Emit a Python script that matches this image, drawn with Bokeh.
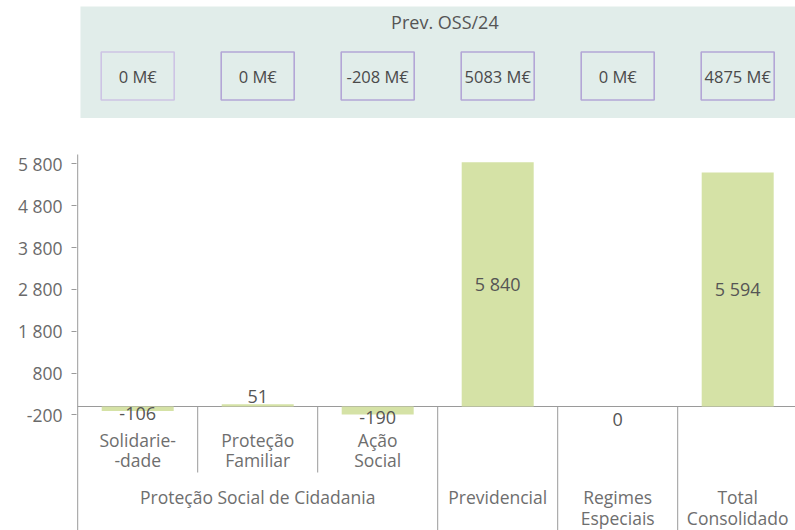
from bokeh.plotting import figure
from bokeh.models import FixedTicker, ColumnDataSource, Range1d
from bokeh.core.properties import value
from bokeh.embed import file_html
from bokeh.resources import INLINE

# ---- data ----
categories = ["Solidarie-\n-dade", "Proteção\nFamiliar", "Ação\nSocial",
              "Previdencial", "Regimes\nEspeciais", "Total\nConsolidado"]
values = [-106, 51, -190, 5840, 0, 5594]
value_labels = ["-106", "51", "-190", "5 840", "0", "5 594"]
prev_oss = ["0 M€", "0 M€", "-208 M€", "5083 M€", "0 M€", "4875 M€"]
group_name = "Proteção Social de Cidadania"
group_size = 3
y_ticks = [-200, 800, 1800, 2800, 3800, 4800, 5800]
y_tick_labels = ["-200", "800", "1 800", "2 800", "3 800", "4 800", "5 800"]
panel_title = "Prev. OSS/24"

# ---- layout helpers ----
FONT = value("Open Sans")
W, H = 795, 530
LEFT = 76
ZERO_PX = 406          # zero line, pixels below the top of the figure
UPP = 6000 / 251.0     # data units per pixel
n = len(categories)

def py(pixels_from_top):
    return (ZERO_PX - pixels_from_top) * UPP

x_start = -0.01
x_end = x_start + (W - LEFT) / 120.0
y_rng = Range1d(py(H), py(0))

p = figure(width=W, height=H, output_backend="svg", toolbar_location=None,
           x_range=Range1d(x_start, x_end), y_range=y_rng,
           x_axis_type=None, min_border_left=LEFT, min_border_right=0,
           min_border_top=0, min_border_bottom=0, outline_line_color=None)
p.grid.visible = False
p.background_fill_color = "white"

# y axis
ya = p.yaxis[0]
ya.ticker = FixedTicker(ticks=y_ticks)
ya.major_label_overrides = {t: l for t, l in zip(y_ticks, y_tick_labels)}
ya.axis_line_color = None
ya.major_tick_line_color = "#9a9a9a"
ya.major_tick_in = 0
ya.major_tick_out = 5
ya.minor_tick_line_color = None
ya.major_label_standoff = 9
ya.major_label_text_font = "Open Sans"
ya.major_label_text_font_size = "17.5px"
ya.major_label_text_color = "#6a6a6a"

# top panel
p.quad(left=0.023, right=x_end, bottom=py(117.5), top=py(6),
       fill_color="#e1edea", line_color=None)
p.text(x=[n / 2 + 0.06], y=[py(21)], text=[panel_title], text_font=FONT,
       text_font_size="18px", text_color="#555555", text_align="center",
       text_baseline="middle")
xs = [i + 0.5 for i in range(n)]
box_src = ColumnDataSource(dict(x=xs, y=[py(75.5)] * n, t=prev_oss,
                                lc=["#cdc4e4"] + ["#b3a6d6"] * (n - 1)))
p.rect(x="x", y="y", width=73, height=48, width_units="screen",
       height_units="screen", source=box_src, fill_color=None,
       line_color="lc", line_width=1.6)
p.text(x="x", y="y", text="t", source=box_src, text_font=FONT,
       text_font_size="16.5px", text_color="#4a4a4a", text_align="center",
       text_baseline="middle")

# axis lines
p.segment(x0=[0], y0=[py(154)], x1=[0], y1=[y_rng.start],
          line_color="#9a9a9a", line_width=1)
p.segment(x0=[0], y0=[0], x1=[x_end], y1=[0], line_color="#9a9a9a",
          line_width=1)

# separators
inner = list(range(1, group_size))
outer = list(range(group_size, n))
p.segment(x0=inner, y0=[0] * len(inner), x1=inner,
          y1=[py(ZERO_PX + 66)] * len(inner), line_color="#9a9a9a")
p.segment(x0=outer, y0=[0] * len(outer), x1=outer,
          y1=[y_rng.start] * len(outer), line_color="#9a9a9a")

# bars
bar_src = ColumnDataSource(dict(x=xs, top=values))
p.vbar(x="x", top="top", bottom=0, width=0.6, source=bar_src,
       fill_color="#d5e2a6", line_color=None)

# value labels
big = max(abs(v) for v in values) / 4
ly, loff = [], []
for v in values:
    if abs(v) > big:
        ly.append(v / 2); loff.append(0)
    elif v > 0:
        ly.append(v); loff.append(-8)
    elif v < 0:
        ly.append(v); loff.append(3)
    else:
        ly.append(v); loff.append(13)
lab_src = ColumnDataSource(dict(x=xs, y=ly, off=loff, t=value_labels))
p.text(x="x", y="y", y_offset="off", text="t", source=lab_src,
       text_font=FONT, text_font_size="18px", text_color="#555555",
       text_align="center", text_baseline="middle")

# category labels (split into single lines)
def add_lines(xpos, labels, first_off, step):
    lx, lt, lo = [], [], []
    for x, lab in zip(xpos, labels):
        for k, line in enumerate(lab.split("\n")):
            lx.append(x); lt.append(line); lo.append(first_off + k * step)
    src = ColumnDataSource(dict(x=lx, y=[0] * len(lx), t=lt, off=lo))
    p.text(x="x", y="y", y_offset="off", text="t", source=src,
           text_font=FONT, text_font_size="17.5px", text_color="#6e6e6e",
           text_align="center", text_baseline="middle")

add_lines(xs[:group_size], categories[:group_size], 33, 20)
add_lines([group_size / 2] + xs[group_size:],
          [group_name] + categories[group_size:], 90, 21)

open("out.html", "w").write(file_html(p, INLINE))
